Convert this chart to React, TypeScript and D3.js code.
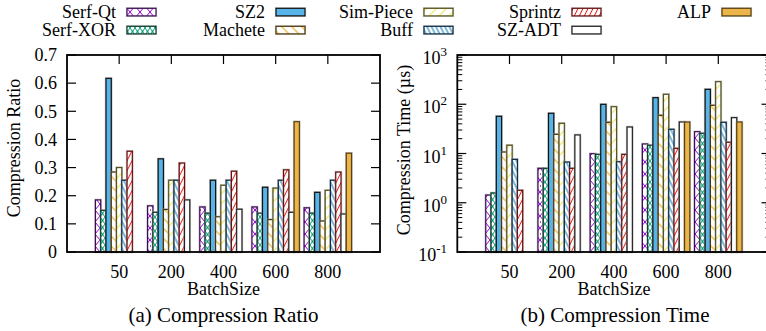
import React from "react";
import * as d3 from "d3";

const categories = ["50", "200", "400", "600", "800"];
const seriesNames = ["Serf-Qt", "Serf-XOR", "SZ2", "Machete", "Sim-Piece", "Buff", "Sprintz", "SZ-ADT", "ALP"];

const serfQtRatio = [0.185, 0.164, 0.160, 0.160, 0.157];
const serfXorRatio = [0.148, 0.141, 0.138, 0.138, 0.138];
const sz2Ratio = [0.617, 0.331, 0.255, 0.230, 0.212];
const macheteRatio = [0.284, 0.151, 0.125, 0.115, 0.110];
const simPieceRatio = [0.300, 0.255, 0.237, 0.227, 0.219];
const buffRatio = [0.255, 0.255, 0.255, 0.255, 0.255];
const sprintzRatio = [0.358, 0.316, 0.287, 0.292, 0.284];
const szAdtRatio = [null, 0.185, 0.152, 0.141, 0.135];
const alpRatio = [null, null, null, 0.463, 0.351];

const serfQtTime = [1.43, 5.0, 9.9, 15.6, 27.7];
const serfXorTime = [1.58, 5.0, 9.6, 14.7, 25.7];
const sz2Time = [57, 65.5, 99.6, 136, 201];
const macheteTime = [10.7, 24.5, 43, 59.6, 95];
const simPieceTime = [14.7, 41, 89, 159, 287];
const buffTime = [7.6, 6.7, 6.8, 31, 43];
const sprintzTime = [1.79, 5.0, 9.6, 12.7, 16.9];
const szAdtTime = [null, 23.8, 34.5, 43.6, 53.4];
const alpTime = [null, null, null, 43.6, 43.6];

const ratioTicks = [0, 0.1, 0.2, 0.3, 0.4, 0.5, 0.6, 0.7];
const timeTickExps = [-1, 0, 1, 2, 3];

const ratioData = [serfQtRatio, serfXorRatio, sz2Ratio, macheteRatio, simPieceRatio, buffRatio, sprintzRatio, szAdtRatio, alpRatio];
const timeData = [serfQtTime, serfXorTime, sz2Time, macheteTime, simPieceTime, buffTime, sprintzTime, szAdtTime, alpTime];

const fills = ["url(#pSerfQt)", "url(#pSerfXor)", "#56B4E9", "url(#pMachete)", "url(#pSimPiece)", "url(#pBuff)", "url(#pSprintz)", "#ffffff", "#EBB54A"];
const strokes = ["#3a0a55", "#0d3a2c", "#111111", "#4a3308", "#55521a", "#0b2a44", "#6a1010", "#222222", "#5a4010"];

const FONT = "'Liberation Serif', 'Times New Roman', serif";

function Patterns() {
  const lineP = (id: string, color: string, period: number, angle: number) => (
    <pattern id={id} patternUnits="userSpaceOnUse" width={period} height={10} patternTransform={`rotate(${angle})`}>
      <rect width={period} height={10} fill="#fff" />
      <line x1={period / 2} y1={0} x2={period / 2} y2={10} stroke={color} strokeWidth={1} />
    </pattern>
  );
  return (
    <defs>
      <pattern id="pSerfQt" patternUnits="userSpaceOnUse" width={10} height={12}>
        <rect width={10} height={12} fill="#fff" />
        <path d="M0,0 L10,12 M10,0 L0,12" stroke="#9400D3" strokeWidth={1} fill="none" />
        <circle cx={0} cy={6} r={0.9} fill="#9400D3" />
      </pattern>
      <pattern id="pSerfXor" patternUnits="userSpaceOnUse" width={5} height={7}>
        <rect width={5} height={7} fill="#fff" />
        <path d="M0,0 L5,7 M5,0 L0,7" stroke="#009E73" strokeWidth={1} fill="none" />
        <circle cx={2.5} cy={3.5} r={1} fill="#009E73" />
      </pattern>
      {lineP("pMachete", "#E69F00", 7.07, -45)}
      {lineP("pSimPiece", "#EDE040", 7.07, 45)}
      {lineP("pBuff", "#0072B2", 4.0, -26.57)}
      {lineP("pSprintz", "#E8201A", 4.47, 26.57)}
    </defs>
  );
}

function Bars({ data, x, y, base }: any) {
  const unit = x(1) - x(0);
  const w = unit * 0.101;
  const out: any[] = [];
  data.forEach((vals: (number | null)[], s: number) => {
    vals.forEach((v, i) => {
      if (v == null) return;
      const left = x(i) - (9 * w) / 2 + s * w;
      const top = y(v);
      out.push(
        <g key={`${s}-${i}`}>
          <rect x={left} y={top} width={w} height={base - top} fill="none" stroke="#999" strokeOpacity={0.6} strokeWidth={2.4} />
          <rect x={left} y={top} width={w} height={base - top} fill={fills[s]} stroke={strokes[s]} strokeWidth={1.2} />
        </g>
      );
    });
  });
  return <g>{out}</g>;
}

export default function App() {
  const W = 766, H = 331;
  const top = 55, bot = 252;
  const xL = d3.scaleLinear().domain([-1, 5]).range([67, 380]);
  const yL = d3.scaleLinear().domain([0, 0.7]).range([bot, top]);
  const xR = d3.scaleLinear().domain([-1, 5]).range([457.3, 770.5]);
  const yR = d3.scaleLog().domain([0.1, 1000]).range([bot, top]);

  const minorTicks: number[] = [];
  for (let e = -1; e < 3; e++) for (let m = 2; m <= 9; m++) minorTicks.push(m * Math.pow(10, e));

  const legendCols = [116, 265, 413, 561, 711];
  const legendRows = [18, 36];

  return (
    <svg width={W} height={H} style={{ position: "absolute", left: 0, top: 0, background: "#fff" }} fontFamily={FONT}>
      <Patterns />
      <rect width={W} height={H} fill="#fff" />

      {/* Legend */}
      {seriesNames.map((name, s) => {
        const col = Math.floor(s / 2);
        const row = s % 2;
        const tx = legendCols[col];
        const by = legendRows[row];
        return (
          <g key={name}>
            <text x={tx} y={by} textAnchor="end" fontSize={18}>{name}</text>
            <rect x={tx + 11} y={by - 9.7} width={29} height={7.6} fill="none" stroke="#aaa" strokeWidth={2.2} strokeOpacity={0.6} />
            <rect x={tx + 11} y={by - 9.7} width={29} height={7.6} fill={fills[s]} stroke={strokes[s]} strokeWidth={1.2} />
          </g>
        );
      })}

      {/* Left chart */}
      <Bars data={ratioData} x={xL} y={yL} base={bot} />
      {ratioTicks.map((t) => (
        <g key={t}>
          <line x1={67} x2={76} y1={yL(t)} y2={yL(t)} stroke="#000" strokeWidth={1.2} />
          <line x1={371} x2={380} y1={yL(t)} y2={yL(t)} stroke="#000" strokeWidth={1.2} />
          <text x={57} y={yL(t)} dy="0.35em" textAnchor="end" fontSize={18}>{String(t)}</text>
        </g>
      ))}
      {categories.map((c, i) => (
        <g key={c}>
          <line x1={xL(i)} x2={xL(i)} y1={top} y2={top + 9} stroke="#000" strokeWidth={1.2} />
          <text x={xL(i)} y={277.5} textAnchor="middle" fontSize={18}>{c}</text>
        </g>
      ))}
      <rect x={67} y={top} width={380 - 67} height={bot - top} fill="none" stroke="#000" strokeWidth={1.8} />
      <text transform={`translate(19.5,148) rotate(-90)`} textAnchor="middle" fontSize={18}>Compression Ratio</text>
      <text x={223.5} y={295} textAnchor="middle" fontSize={18}>BatchSize</text>
      <text x={223.5} y={322} textAnchor="middle" fontSize={21}>(a) Compression Ratio</text>

      {/* Right chart */}
      <Bars data={timeData} x={xR} y={yR} base={bot} />
      {minorTicks.map((t, k) => (
        <g key={k}>
          <line x1={457.3} x2={462.3} y1={yR(t)} y2={yR(t)} stroke="#000" strokeWidth={1} />
          <line x1={765.5} x2={770.5} y1={yR(t)} y2={yR(t)} stroke="#000" strokeWidth={1} />
        </g>
      ))}
      {timeTickExps.map((e) => {
        const yy = yR(Math.pow(10, e));
        return (
          <g key={e}>
            <line x1={457.3} x2={466.3} y1={yy} y2={yy} stroke="#000" strokeWidth={1.2} />
            <line x1={761.5} x2={770.5} y1={yy} y2={yy} stroke="#000" strokeWidth={1.2} />
            <text x={447} y={yy + 9} textAnchor="end" fontSize={18}>
              <tspan>10</tspan>
              <tspan dy={-8} fontSize={13}>{String(e)}</tspan>
            </text>
          </g>
        );
      })}
      {categories.map((c, i) => (
        <g key={c}>
          <line x1={xR(i)} x2={xR(i)} y1={top} y2={top + 9} stroke="#000" strokeWidth={1.2} />
          <text x={xR(i)} y={277.5} textAnchor="middle" fontSize={18}>{c}</text>
        </g>
      ))}
      <rect x={457.3} y={top} width={770.5 - 457.3} height={bot - top} fill="none" stroke="#000" strokeWidth={1.8} />
      <text transform={`translate(409.5,150) rotate(-90)`} textAnchor="middle" fontSize={18}>Compression Time (µs)</text>
      <text x={614} y={295} textAnchor="middle" fontSize={18}>BatchSize</text>
      <text x={615} y={322} textAnchor="middle" fontSize={21}>(b) Compression Time</text>
    </svg>
  );
}
